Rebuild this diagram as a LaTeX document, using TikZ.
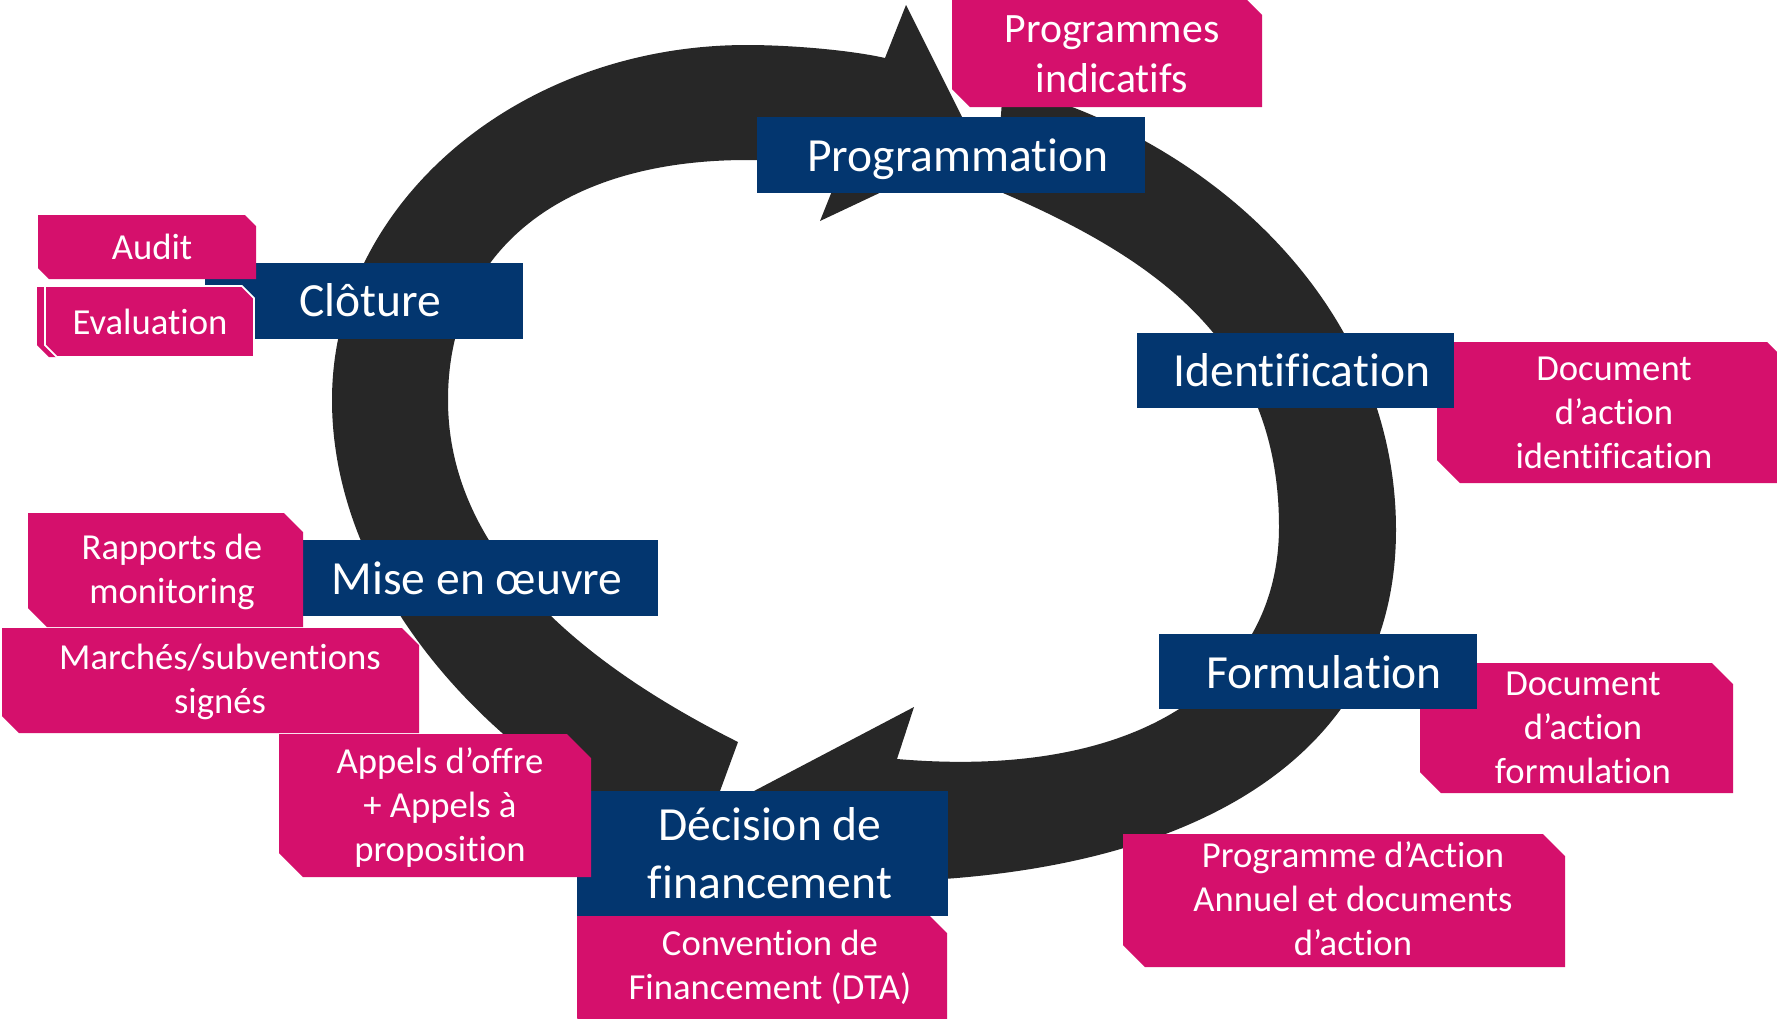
\documentclass[tikz,border=0pt]{standalone}
\usepackage{fontspec}
\setmainfont{Carlito}[Ligatures=NoCommon]
\usetikzlibrary{fit}
\definecolor{navyblue}{RGB}{3,54,111}
\definecolor{docpink}{RGB}{213,16,108}
\definecolor{ringgray}{RGB}{39,39,39}
\newcommand\snipbox[6][]{%
  \path[fill=docpink,#1] (#2,#3) -- ({#4-#6},#3) -- (#4,{#3+#6}) -- (#4,#5) -- ({#2+#6},#5) -- (#2,{#5-#6}) -- cycle;}
\begin{document}
\begin{tikzpicture}[x=0.45pt, y=-0.45pt]
\tikzset{
  ring/.style={fill=ringgray, draw=none},
  bluebox/.style={fill=navyblue, draw=none, inner sep=0pt},
  bluetext/.style={text=white, font=\fontsize{21.4}{26.1}\selectfont, align=center, inner sep=0pt},
  pinktext/.style={text=white, font=\fontsize{16.5}{19.8}\selectfont, align=center, inner sep=0pt},
  bigpinktext/.style={text=white, font=\fontsize{18.8}{22.5}\selectfont, align=center, inner sep=0pt}
}
\useasboundingbox (0,0) rectangle (1777,1018);
\fill[white] (0,0) rectangle (1777,1018);

% left arrow (up the left side, pointing right at the top)
\path[ring] (738,742)
  .. controls (594,670) and (448,560) .. (448,400)
  .. controls (448,251) and (561,160) .. (747,160)
  .. controls (795,160) and (820,166) .. (840,171)
  -- (820,221) -- (977,147) -- (906,5) -- (885,58)
  .. controls (850,50) and (790,45) .. (747,45)
  .. controls (518,45) and (332,204) .. (332,400)
  .. controls (332,600) and (510,782) .. (698,851)
  -- cycle;

% right arrow (down the right side, pointing left at the bottom)
\path[ring] (996,190)
  .. controls (1161.6,260.2) and (1279,347) .. (1279,527)
  .. controls (1279,677) and (1147,780.5) .. (897,759)
  -- (914,707) -- (716,811) -- (840,932) -- (857,882)
  .. controls (1187,882) and (1396,760) .. (1396,530)
  .. controls (1396,310) and (1216.4,138.9) .. (1003,85)
  -- cycle;

% pink boxes lying under blue boxes
\snipbox{1437}{342}{1790}{483}{23}
\snipbox{1420}{663}{1733}{793}{21}

% blue stage boxes
\node[bluebox, fit={(757,117) (1145,193)}] (progbox) {};
\node[bluebox, fit={(205,263) (523,339)}] (clotbox) {};
\node[bluebox, fit={(1137,333) (1454,408)}] (identbox) {};
\node[bluebox, fit={(1159,634) (1477,709)}] (formbox) {};
\node[bluebox, fit={(302,540) (658,616)}] (misebox) {};
\node[bluebox, fit={(577,791) (948,916)}] (decbox) {};

% pink boxes on top
\snipbox{952}{-3}{1262}{107}{18}
\snipbox{38}{215}{256}{279}{11}
\snipbox{37}{287}{246}{357}{12}
\snipbox[draw=white, line width=0.8pt]{45}{286}{254}{357}{12}
\snipbox{28}{513}{303}{627}{19}
\snipbox{2}{628}{419}{733}{17}
\snipbox{279}{734}{591}{877}{24}
\snipbox{577}{916}{947}{1035}{17}
\snipbox{1123}{834}{1565}{967}{22}

% stage labels
\node[bluetext] (prog) at (958,159.4) {\strut Programmation};
\node[bluetext] (clot) at (370,304.4) {\strut Clôture};
\node[bluetext] (ident) at (1302,374.4) {\strut Identification};
\node[bluetext] (form) at (1324,676.4) {\strut Formulation};
\node[bluetext] (mise) at (477,582.4) {\strut Mise en œuvre};
\node[bluetext] (dec) at (770,857.4) {\strut Décision de\\financement\strut};

% document labels
\node[bigpinktext] (progind) at (1112,57) {\strut Programmes\\indicatifs\strut};
\node[pinktext] (audit) at (152,250.2) {\strut Audit};
\node[pinktext] (eval) at (150,325.2) {\strut Evaluation};
\node[pinktext] (docid) at (1614,415.7) {\strut Document\\d’action\\identification\strut};
\node[pinktext] (docform) at (1583,730.2) {\strut Document\\d’action\\formulation\strut};
\node[pinktext] (paa) at (1353,902.7) {\strut Programme d’Action\\Annuel et documents\\d’action\strut};
\node[pinktext] (conv) at (770,968.7) {\strut Convention de\\Financement (DTA)\strut};
\node[pinktext] (appels) at (440,808.7) {\strut Appels d’offre\\+ Appels à\\proposition\strut};
\node[pinktext] (marches) at (220,682.7) {\strut Marchés/subventions\\signés\strut};
\node[pinktext] (rapports) at (172,572.2) {\strut Rapports de\\monitoring\strut};
\end{tikzpicture}
\end{document}
